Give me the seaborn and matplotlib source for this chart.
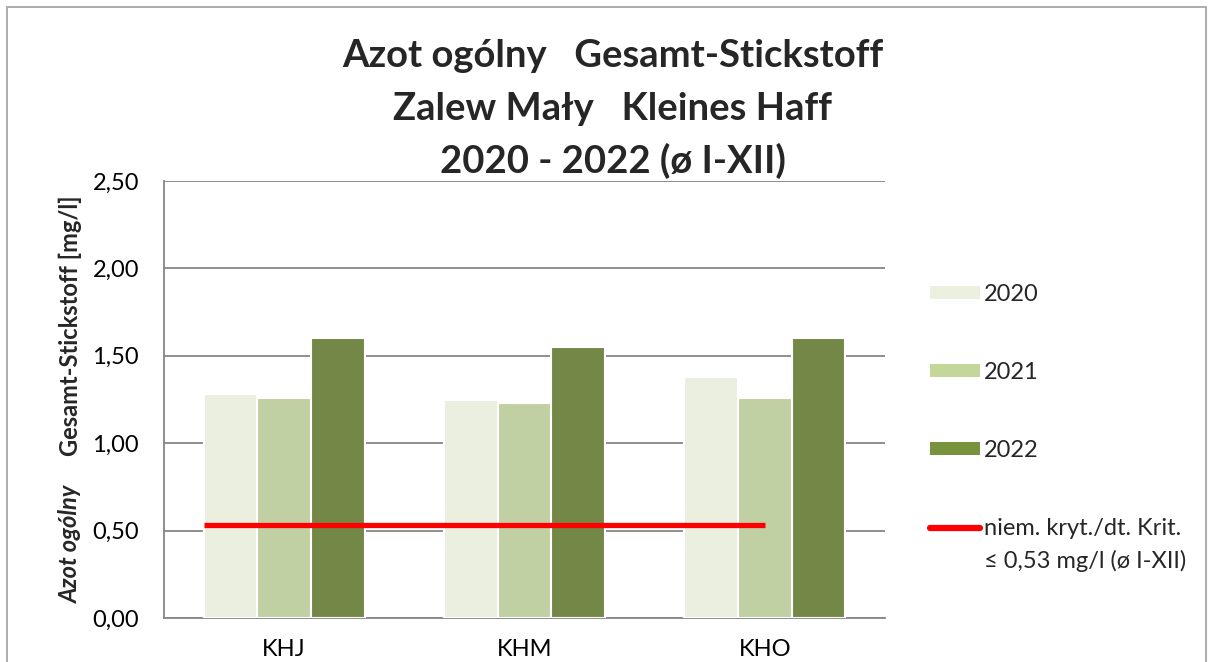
import pandas as pd
import matplotlib
matplotlib.use("Agg")
import matplotlib.pyplot as plt
import matplotlib.patches as mpatches
import matplotlib.lines as mlines
from matplotlib.ticker import FuncFormatter
import seaborn as sns

# data
stations = ["KHJ", "KHM", "KHO"]
years = ["2020", "2021", "2022"]
n_2020 = [1.28, 1.25, 1.38]
n_2021 = [1.26, 1.23, 1.26]
n_2022 = [1.60, 1.55, 1.60]
criterion = 0.53
colors = ["#EBF1DE", "#C4D79B", "#77933C"]

title_lines = ["Azot ogólny   Gesamt-Stickstoff",
               "Zalew Mały   Kleines Haff",
               "2020 - 2022 (ø I-XII)"]
crit_label = ["niem. kryt./dt. Krit.", "≤ 0,53 mg/l (ø I-XII)"]

df = pd.DataFrame({
    "station": stations * 3,
    "year": [y for y in years for _ in stations],
    "value": n_2020 + n_2021 + n_2022,
})

sns.set_style("white")
plt.rcParams["font.family"] = ["Lato", "DejaVu Sans"]

fig = plt.figure(figsize=(12.13, 6.62), dpi=100)
ax = fig.add_axes([0.1352, 0.0665, 0.5944, 0.660])

group_w = 0.67
sns.barplot(data=df, x="station", y="value", hue="year", palette=colors,
            width=group_w, edgecolor="white", linewidth=1.5,
            legend=False, ax=ax, zorder=3)

# criterion line, from left edge of first group to the last category
ax.plot([-group_w / 2, len(stations) - 1], [criterion, criterion],
        color="#FF0000", lw=3.8, solid_capstyle="butt", zorder=4)

ax.set_ylim(0, 2.5)
ax.set_xlim(-0.5, len(stations) - 0.5)
ax.set_yticks([0, 0.5, 1.0, 1.5, 2.0, 2.5])
ax.yaxis.set_major_formatter(FuncFormatter(lambda v, p: f"{v:.2f}".replace(".", ",")))
ax.yaxis.grid(True, color="#868686", lw=1.3, zorder=0)
ax.set_axisbelow(True)
ax.tick_params(axis="both", length=0, labelsize=17, colors="#000000")
ax.tick_params(axis="y", pad=18)
ax.tick_params(axis="x", pad=15)
ax.set_xlabel("")
ax.set_ylabel("")
for s in ["top", "right"]:
    ax.spines[s].set_visible(False)
for s in ["left", "bottom"]:
    ax.spines[s].set_color("#868686")
    ax.spines[s].set_linewidth(1.3)

# y label in two styles
fig.text(0.058, 1 - 544 / 662, "Azot ogólny", rotation=90, ha="center", va="center",
         fontsize=17, fontweight="bold", fontstyle="italic")
fig.text(0.058, 1 - 326 / 662, "Gesamt-Stickstoff [mg/l]", rotation=90, ha="center",
         va="center", fontsize=17, fontweight="bold")

# title
for i, line in enumerate(title_lines):
    fig.text(0.505, 1 - (56 + 52.5 * i) / 662, line, ha="center", va="center",
             fontsize=27.5, fontweight="bold")

handles = [mpatches.Patch(facecolor=c, edgecolor="none") for c in colors]
handles.append(mlines.Line2D([], [], color="#FF0000", lw=4.5))
leg = fig.legend(handles, years + crit_label[:1], loc="upper left",
                 bbox_to_anchor=(0.757, 1 - 272 / 662), frameon=False, fontsize=17,
                 handlelength=2.1, handleheight=0.5, handletextpad=0.2,
                 labelspacing=2.42, borderpad=0)

# second line of the criterion label, under the first one
fig.canvas.draw()
bb = leg.get_texts()[-1].get_window_extent().transformed(fig.transFigure.inverted())
fig.text(bb.x0, bb.y0 - 0.016, crit_label[1], ha="left", va="top", fontsize=17)

# chart area border
fig.patches.append(mpatches.Rectangle((0.006, -0.01), 0.988, 0.999, transform=fig.transFigure,
                                      fill=False, edgecolor="#A6A6A6", lw=1.3))

fig.savefig("out.png", dpi=100)
